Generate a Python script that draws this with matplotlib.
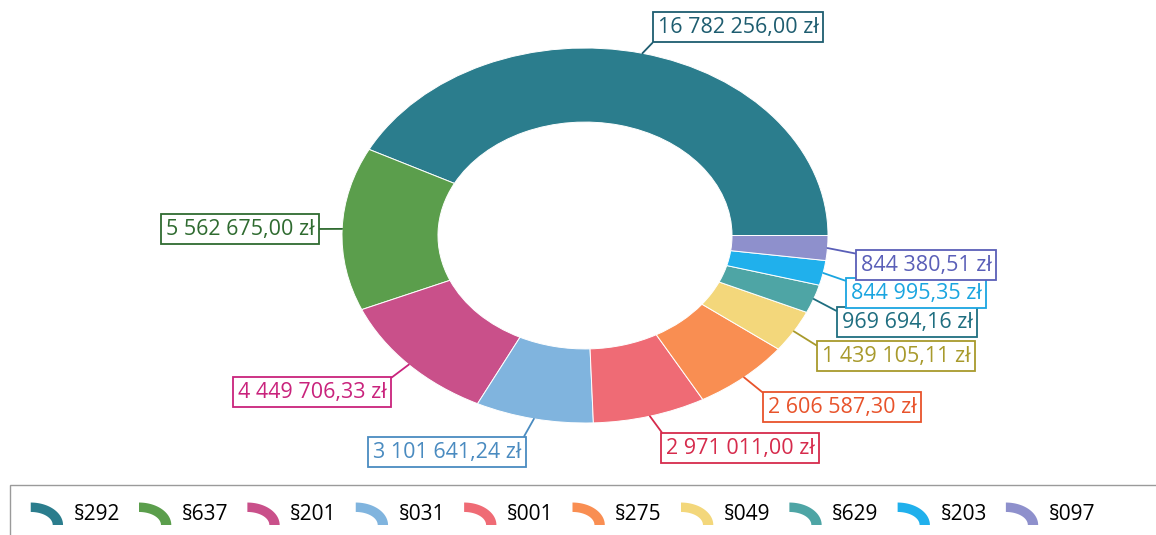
import numpy as np
import matplotlib.pyplot as plt
from matplotlib.patches import Wedge, Polygon, Rectangle
from matplotlib.legend_handler import HandlerPatch

plt.rcParams['font.family'] = ['Open Sans', 'DejaVu Sans']

codes = ['§292', '§637', '§201', '§031', '§001', '§275', '§049', '§629', '§203', '§097']
values = [16782256.00, 5562675.00, 4449706.33, 3101641.24, 2971011.00,
          2606587.30, 1439105.11, 969694.16, 844995.35, 844380.51]
labels = ['16 782 256,00 zł', '5 562 675,00 zł', '4 449 706,33 zł', '3 101 641,24 zł',
          '2 971 011,00 zł', '2 606 587,30 zł', '1 439 105,11 zł', '969 694,16 zł',
          '844 995,35 zł', '844 380,51 zł']
colors = ['#2b7d8d', '#5b9e4c', '#c9508a', '#80b4de', '#ef6b75',
          '#f98e52', '#f3d77b', '#4ea5a5', '#20b0ec', '#8e90cc']
text_colors = ['#1e5d70', '#2f6b30', '#c9237c', '#4a8bc0', '#d62b4c',
               '#e8532b', '#a89a2c', '#1f6e80', '#1aa5e0', '#5a5fb8']

W, H = 1156, 535
fig = plt.figure(figsize=(W / 100, H / 100), dpi=100)
ax = fig.add_axes([0, 0, 1, 1])

# ellipse centre and radii in pixels
cx, cy, rx, ry = 585, 235.5, 243, 187.5


def px(x, y):
    return (x - cx) / rx, (cy - y) / ry


wedges, _ = ax.pie(values, colors=colors, startangle=0, counterclock=True, radius=1,
                   wedgeprops=dict(width=0.395, edgecolor='white', linewidth=0.7))
ax.set_aspect('auto')
ax.set_xlim(px(0, 0)[0], px(W, 0)[0])
ax.set_ylim(px(0, H)[1], px(0, 0)[1])
ax.axis('off')

# label box centres (pixels) and where the leader meets the box
label_pos = [(738, 27), (240, 229), (312, 392), (447, 452), (740, 448),
             (842, 407), (896, 356), (907, 322), (916, 293), (926, 265)]
rel_pos = [(0, 0), (1, .5), (1, 1), (1, 1), (0, 1),
           (0, 1), (0, .85), (0, .9), (0, 1), (0, 1)]

for w, lab, tc, pos, rp in zip(wedges, labels, text_colors, label_pos, rel_pos):
    ang = np.deg2rad((w.theta1 + w.theta2) / 2)
    ax.annotate(lab, xy=(np.cos(ang), np.sin(ang)), xytext=px(*pos),
                ha='center', va='center', fontsize=15.5, color=tc,
                bbox=dict(boxstyle='square,pad=0.22', fc='white', ec=tc, lw=1.3),
                arrowprops=dict(arrowstyle='-', color=tc, lw=1.3, relpos=rp,
                                shrinkA=0, shrinkB=0))


def arc_icon(legend, orig_handle, xdescent, ydescent, width, height, fontsize):
    t = np.linspace(0, np.pi / 2, 30)
    x0, y0 = -xdescent, -ydescent - 0.2 * height
    h = height * 1.25
    outer = np.c_[x0 + width * np.cos(t), y0 + h * np.sin(t)]
    inner = np.c_[x0 + 0.68 * width * np.cos(t[::-1]), y0 + 0.58 * h * np.sin(t[::-1])]
    return Polygon(np.vstack([outer, inner]), closed=True)


leg = fig.legend(wedges, codes, handler_map={Wedge: HandlerPatch(patch_func=arc_icon)},
                 ncol=10, loc='center left', bbox_to_anchor=(12 / W, 1 - 514 / H),
                 frameon=False, fontsize=15, handlelength=1.55, handleheight=0.95,
                 columnspacing=0.92, handletextpad=0.5)
for p in leg.get_patches():
    p.set_edgecolor('none')

fig.add_artist(Rectangle((10 / W, -0.05), 1.1, (H - 485) / H + 0.05,
                         transform=fig.transFigure, fill=False, ec='#9a9a9a', lw=1))

fig.savefig('out.png', dpi=100)
